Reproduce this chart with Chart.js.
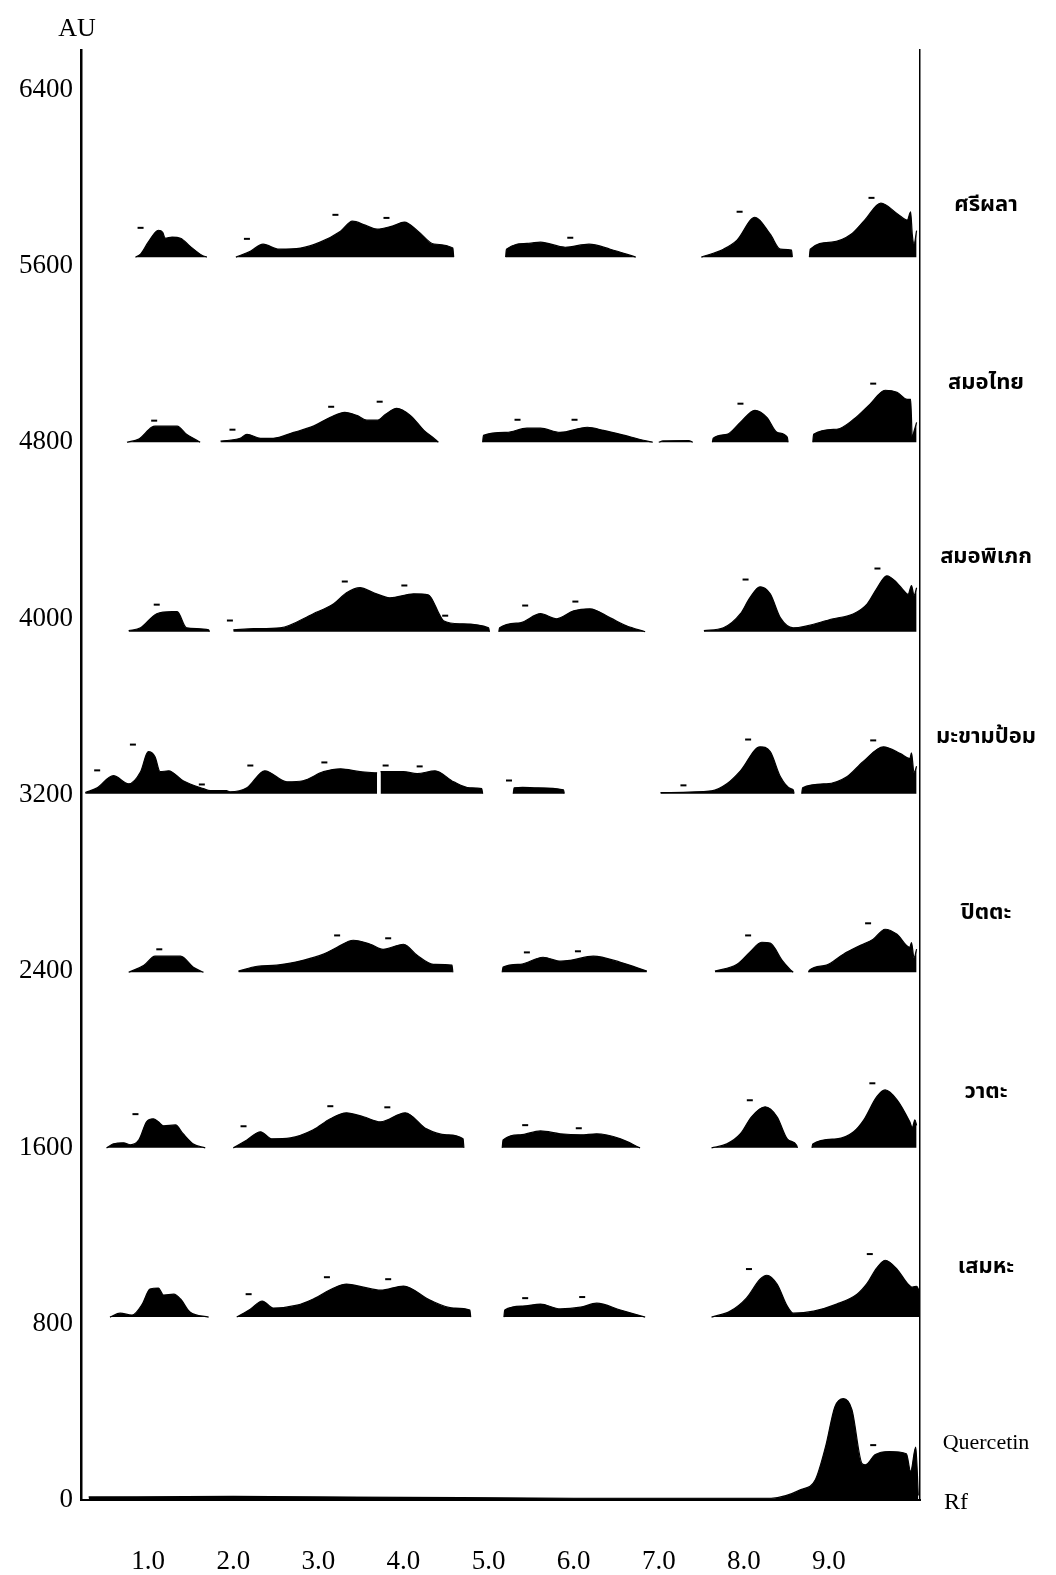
<!DOCTYPE html>
<html>
<head>
<meta charset="utf-8">
<script src="https://cdn.jsdelivr.net/npm/chart.js@4/dist/chart.umd.min.js"></script>
<style>
  html, body { margin: 0; padding: 0; background: #fff; }
  #wrap { width: 1056px; height: 1575px; position: relative; }
</style>
</head>
<body>
<div id="wrap"><canvas id="c"></canvas></div>
<script>
// ---- tick labels ----
const rfTicks = [1, 2, 3, 4, 5, 6, 7, 8, 9];
const auTicks = [0, 800, 1600, 2400, 3200, 4000, 4800, 5600, 6400];

// ---- sample names (right-hand labels) ----
const sampleNames = ['ศรีผลา', 'สมอไทย', 'สมอพิเภก', 'มะขามป้อม', 'ปิตตะ', 'วาตะ', 'เสมหะ', 'Quercetin'];
// baseline (AU) of each stacked densitogram track
const baselines = [5640, 4800, 3940, 3205, 2395, 1598, 830, 0];
// AU level at which each name is written
const labelLevels = [5868, 5062, 4274, 3454, 2658, 1846, 1052, 256];

// ---- densitogram traces: [Rf, AU]; null = gap between scanned segments ----
const sriphala = [
 [0.85,5640],[0.91,5654],[1.00,5708],[1.12,5762],[1.17,5753],[1.20,5726],[1.28,5731],[1.38,5726],[1.49,5690],[1.63,5649],[1.69,5640],
 [1.85,null],
 [2.03,5640],[2.20,5667],[2.35,5699],[2.54,5676],[2.79,5681],[3.02,5708],[3.26,5758],[3.40,5803],[3.55,5785],[3.69,5767],[3.87,5781],[4.01,5799],[4.17,5758],[4.36,5699],[4.58,5681],[4.59,5640],
 [4.90,null],
 [5.20,5640],[5.21,5676],[5.47,5703],[5.61,5708],[5.90,5685],[6.18,5699],[6.43,5676],[6.73,5640],
 [7.10,null],
 [7.50,5640],[7.76,5676],[7.92,5717],[8.13,5821],[8.31,5744],[8.43,5676],[8.56,5672],[8.57,5640],
 [8.67,null],
 [8.77,5640],[8.78,5676],[9.03,5708],[9.26,5744],[9.42,5808],[9.61,5885],[9.81,5835],[9.92,5808],[9.96,5845],[9.98,5740],[10.00,5700],[10.03,5760]
];
const smoThai = [
 [0.75,4800],[0.89,4815],[1.04,4868],[1.08,4873],[1.34,4873],[1.45,4836],[1.55,4814],[1.61,4800],
 [1.70,null],
 [1.85,4805],[2.08,4818],[2.16,4836],[2.32,4818],[2.47,4818],[2.71,4845],[2.94,4873],[3.14,4913],[3.31,4936],[3.45,4922],[3.57,4900],[3.69,4900],[3.79,4927],[3.92,4954],[4.08,4922],[4.24,4854],[4.37,4814],[4.41,4800],
 [4.70,null],
 [4.93,4800],[4.94,4832],[5.21,4845],[5.45,4864],[5.61,4864],[5.84,4845],[6.16,4868],[6.35,4854],[6.55,4836],[6.82,4809],[6.93,4800],
 [6.96,null],
 [7.00,4800],[7.05,4806],[7.35,4808],[7.40,4800],
 [7.50,null],
 [7.63,4800],[7.64,4818],[7.80,4836],[7.96,4891],[8.13,4945],[8.27,4913],[8.39,4845],[8.51,4823],[8.52,4800],
 [8.70,null],
 [8.81,4800],[8.82,4836],[9.09,4859],[9.29,4904],[9.48,4972],[9.66,5036],[9.80,5027],[9.92,4995],[9.96,4995],[9.98,4820],[10.00,4850],[10.03,4890]
];
const smoPhiphek = [
 [0.77,3945],[0.91,3958],[1.10,4022],[1.28,4031],[1.34,4031],[1.45,3958],[1.71,3949],[1.72,3940],
 [1.85,null],
 [2.00,3949],[2.24,3954],[2.55,3958],[2.94,4022],[3.18,4067],[3.33,4117],[3.49,4140],[3.65,4117],[3.84,4094],[4.12,4112],[4.29,4108],[4.43,4013],[4.47,3990],[4.67,3976],[5.00,3958],[5.01,3940],
 [5.06,null],
 [5.12,3940],[5.13,3958],[5.37,3981],[5.61,4022],[5.80,3999],[6.00,4035],[6.19,4044],[6.43,4003],[6.62,3967],[6.84,3940],
 [7.20,null],
 [7.53,3945],[7.76,3958],[7.96,4022],[8.07,4094],[8.19,4144],[8.31,4112],[8.43,4003],[8.58,3958],[9.05,3999],[9.29,4022],[9.45,4067],[9.56,4135],[9.68,4194],[9.80,4162],[9.88,4126],[9.93,4110],[9.97,4150],[10.00,4105],[10.03,4140]
];
const makhamPom = [
 [0.26,3210],[0.40,3232],[0.59,3287],[0.77,3250],[0.91,3305],[1.00,3396],[1.08,3373],[1.14,3305],[1.24,3309],[1.41,3264],[1.65,3228],[1.73,3219],[1.92,3219],[1.96,3214],[2.16,3232],[2.37,3309],[2.63,3259],[2.82,3264],[3.06,3305],[3.26,3318],[3.49,3305],[3.69,3300],
 [3.71,null],
 [3.73,3305],[4.00,3305],[4.16,3296],[4.37,3309],[4.59,3259],[4.78,3232],[4.92,3228],[4.93,3205],
 [5.10,null],
 [5.29,3205],[5.30,3232],[5.40,3234],[5.57,3232],[5.88,3223],[5.89,3205],
 [6.50,null],
 [7.02,3210],[7.62,3218],[7.80,3250],[7.96,3309],[8.19,3418],[8.31,3396],[8.43,3282],[8.55,3228],[8.58,3223],[8.59,3205],
 [8.64,null],
 [8.68,3205],[8.69,3232],[8.97,3250],[9.21,3282],[9.40,3350],[9.64,3418],[9.84,3387],[9.95,3364],[9.97,3390],[10.00,3300],[10.03,3330]
];
const pittha = [
 [0.77,2395],[0.95,2427],[1.08,2468],[1.38,2468],[1.53,2418],[1.65,2395],
 [1.85,null],
 [2.06,2400],[2.28,2422],[2.51,2427],[2.82,2449],[3.06,2477],[3.22,2508],[3.41,2540],[3.61,2522],[3.76,2499],[4.00,2522],[4.16,2472],[4.35,2431],[4.57,2427],[4.58,2395],
 [4.90,null],
 [5.16,2395],[5.17,2418],[5.37,2431],[5.64,2463],[5.85,2445],[5.96,2449],[6.23,2468],[6.55,2440],[6.86,2400],
 [7.30,null],
 [7.66,2400],[7.92,2431],[8.07,2486],[8.21,2531],[8.31,2527],[8.45,2449],[8.54,2409],[8.58,2395],
 [8.67,null],
 [8.76,2395],[8.77,2404],[8.97,2427],[9.17,2477],[9.37,2517],[9.52,2545],[9.66,2590],[9.80,2567],[9.95,2508],[9.97,2530],[10.00,2460],[10.03,2500]
];
const vata = [
 [0.51,1598],[0.59,1616],[0.71,1621],[0.79,1612],[0.89,1634],[0.98,1716],[1.06,1730],[1.12,1716],[1.18,1698],[1.32,1702],[1.41,1662],[1.53,1616],[1.67,1598],
 [1.85,null],
 [2.00,1598],[2.16,1634],[2.32,1671],[2.45,1639],[2.67,1643],[2.94,1680],[3.14,1730],[3.33,1757],[3.53,1739],[3.73,1716],[4.02,1757],[4.27,1684],[4.51,1657],[4.70,1639],[4.71,1598],
 [4.95,null],
 [5.16,1598],[5.17,1634],[5.37,1657],[5.61,1675],[5.84,1662],[6.08,1657],[6.27,1662],[6.55,1639],[6.78,1598],
 [7.20,null],
 [7.62,1598],[7.80,1616],[7.96,1662],[8.09,1739],[8.25,1784],[8.39,1739],[8.51,1639],[8.62,1610],[8.63,1598],
 [8.70,null],
 [8.80,1598],[8.81,1616],[9.09,1639],[9.29,1671],[9.41,1725],[9.56,1829],[9.66,1861],[9.80,1816],[9.95,1716],[9.98,1690],[10.01,1725],[10.03,1700]
];
const semha = [
 [0.55,830],[0.67,848],[0.81,839],[0.93,889],[1.02,957],[1.12,962],[1.18,930],[1.30,934],[1.38,912],[1.49,853],[1.71,830],
 [1.85,null],
 [2.04,830],[2.20,866],[2.34,903],[2.47,871],[2.75,884],[2.94,912],[3.18,962],[3.33,980],[3.53,966],[3.73,952],[4.00,971],[4.31,907],[4.59,871],[4.78,862],[4.79,830],
 [4.95,null],
 [5.18,830],[5.19,862],[5.40,880],[5.61,889],[5.84,867],[6.08,875],[6.27,893],[6.55,862],[6.84,830],
 [7.20,null],
 [7.62,830],[7.84,857],[8.03,916],[8.19,1002],[8.27,1020],[8.39,980],[8.51,880],[8.58,848],[8.82,857],[9.09,889],[9.33,934],[9.45,984],[9.56,1052],[9.66,1088],[9.80,1048],[9.92,984],[9.98,966],[10.03,970],[10.07,940]
];
const quercetin = [
 [0.30,14],[2.00,16],[4.00,12],[6.00,8],[8.32,8],[8.67,47],[8.84,92],[8.96,242],[9.07,423],[9.17,460],[9.27,410],[9.39,165],[9.43,160],[9.54,205],[9.71,220],[9.91,210],[9.96,130],[10.02,240],[10.05,20]
];

// small peak-window marks printed above the tracks: [Rf, AU]
const peakMarks = [
 [0.91,5773],[2.16,5723],[3.20,5832],[3.80,5818],[5.96,5728],[7.95,5846],[9.50,5909],
 [1.07,4898],[1.99,4857],[3.15,4961],[3.72,4984],[5.34,4902],[6.01,4902],[7.96,4975],[9.52,5066],
 [1.10,4063],[1.96,3991],[3.31,4168],[4.01,4150],[4.49,4013],[5.43,4059],[6.02,4077],[8.02,4177],[9.57,4227],
 [0.40,3311],[0.82,3428],[1.63,3247],[2.20,3333],[3.07,3347],[3.79,3333],[4.19,3329],[5.24,3265],[7.29,3243],[8.05,3451],[9.52,3447],
 [1.13,2499],[3.22,2562],[3.82,2549],[5.45,2485],[6.05,2490],[8.05,2562],[9.46,2617],
 [0.85,1751],[2.12,1696],[3.14,1787],[3.81,1782],[5.43,1701],[6.06,1687],[8.07,1814],[9.51,1891],
 [2.18,934],[3.10,1011],[3.82,1002],[5.43,916],[6.10,921],[8.06,1048],[9.48,1116],
 [9.52,249]
];

const traces = [sriphala, smoThai, smoPhiphek, makhamPom, pittha, vata, semha, quercetin];

const datasets = traces.map((t, i) => ({
  label: sampleNames[i],
  data: t.map(p => ({ x: p[0], y: p[1] })),
  fill: { value: baselines[i] },
  backgroundColor: '#000',
  borderColor: '#000',
  borderWidth: 1.2,
  pointRadius: 0,
  cubicInterpolationMode: 'monotone',
  spanGaps: false,
  yAxisID: 'y'
}));

datasets.push({
  type: 'scatter',
  label: 'marks',
  data: peakMarks.map(p => ({ x: p[0], y: p[1] })),
  pointStyle: 'line',
  pointRadius: 3,
  borderWidth: 2,
  borderColor: '#000',
  backgroundColor: '#000',
  showLine: false,
  yAxisID: 'y'
});

const textPlugin = {
  id: 'textPlugin',
  afterDraw(chart) {
    const ctx = chart.ctx;
    const ys = chart.scales.y;
    const area = chart.chartArea;
    ctx.save();
    ctx.fillStyle = '#000';
    ctx.textAlign = 'center';
    ctx.textBaseline = 'middle';
    sampleNames.forEach((name, i) => {
      const isLatin = /^[A-Za-z]/.test(name);
      ctx.font = isLatin ? '22px "Liberation Serif"' : 'bold 22px "Noto Sans Thai", "Loma", "Garuda", "Norasi", sans-serif';
      ctx.fillText(name, area.right + 66, ys.getPixelForValue(labelLevels[i]));
    });
    ctx.font = '24px "Liberation Serif"';
    ctx.fillText('Rf', area.right + 36, ys.getPixelForValue(0) + 3);
    ctx.font = '26px "Liberation Serif"';
    ctx.fillText('AU', area.left - 4, area.top - 21);
    ctx.restore();
  }
};

new Chart(document.getElementById('c'), {
  type: 'line',
  data: { datasets },
  plugins: [textPlugin],
  options: {
    responsive: true,
    maintainAspectRatio: false,
    animation: false,
    layout: { padding: { top: 50, left: 0, right: 0, bottom: 0 } },
    plugins: { legend: { display: false }, tooltip: { enabled: false } },
    scales: {
      x: {
        type: 'linear',
        min: 0.21,
        max: 10.07,
        afterBuildTicks: s => { s.ticks = rfTicks.map(v => ({ value: v })); },
        afterFit: s => { s.height = 75; },
        ticks: {
          callback: v => Number(v).toFixed(1),
          font: { family: 'Liberation Serif', size: 27 },
          color: '#000',
          padding: 46,
          maxRotation: 0,
          autoSkip: false
        },
        grid: { display: false, drawTicks: false },
        border: { display: true, color: '#000', width: 2 }
      },
      y: {
        min: 0,
        max: 6580,
        afterBuildTicks: s => { s.ticks = auTicks.map(v => ({ value: v })); },
        afterFit: s => { s.width = 81; },
        ticks: {
          callback: v => String(v),
          font: { family: 'Liberation Serif', size: 27 },
          color: '#000',
          padding: 8
        },
        grid: { display: false, drawTicks: false },
        border: { display: true, color: '#000', width: 2.5 }
      },
      y2: {
        position: 'right',
        min: 0,
        max: 6580,
        afterFit: s => { s.width = 136; },
        ticks: { display: false },
        grid: { display: false, drawTicks: false },
        border: { display: true, color: '#000', width: 1.5 }
      }
    }
  }
});
</script>
</body>
</html>
